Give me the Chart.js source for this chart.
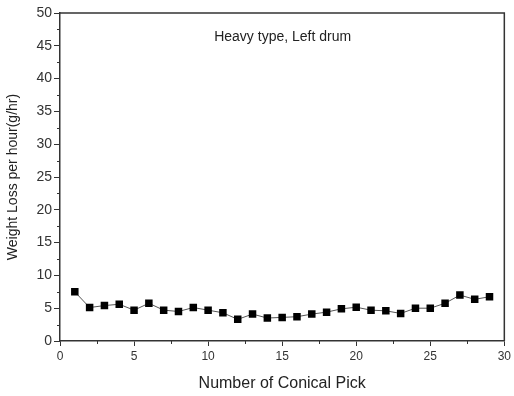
<!DOCTYPE html>
<html>
<head>
<meta charset="utf-8">
<script src="https://cdn.jsdelivr.net/npm/chart.js@4/dist/chart.umd.min.js"></script>
<style>
html,body{margin:0;padding:0;background:#fff;}
#wrap{width:514px;height:396px;position:relative;}
</style>
</head>
<body>
<div id="wrap"><canvas id="c" width="514" height="396"></canvas></div>
<script>
const pickNumbers = [1,2,3,4,5,6,7,8,9,10,11,12,13,14,15,16,17,18,19,20,21,22,23,24,25,26,27,28,29];
const weightLoss = [7.5,5.1,5.4,5.6,4.7,5.75,4.7,4.5,5.1,4.7,4.3,3.3,4.1,3.5,3.6,3.7,4.1,4.4,4.9,5.15,4.7,4.6,4.2,5.0,5.0,5.75,7.0,6.35,6.75];
const xTicks = [0,5,10,15,20,25,30];
const yTicks = [0,5,10,15,20,25,30,35,40,45,50];
const xMinorTicks = [2.5,7.5,12.5,17.5,22.5,27.5];
const yMinorTicks = [2.5,7.5,12.5,17.5,22.5,27.5,32.5,37.5,42.5,47.5];
const annotationText = "Heavy type, Left drum";
const xTitle = "Number of Conical Pick";
const yTitle = "Weight Loss per hour(g/hr)";

const FONT = "'Liberation Sans', Arial, sans-serif";
const AX = '#333';

const framePlugin = {
  id: 'frame',
  afterDraw(chart) {
    const ctx = chart.ctx;
    const a = chart.chartArea;
    const xs = chart.scales.x, ys = chart.scales.y;
    ctx.save();
    ctx.strokeStyle = AX;
    ctx.lineWidth = 1.5;
    ctx.beginPath();
    ctx.moveTo(a.left, a.top); ctx.lineTo(a.right, a.top); ctx.lineTo(a.right, a.bottom);
    ctx.stroke();
    ctx.lineWidth = 1;
    ctx.beginPath();
    xMinorTicks.forEach(v => { const px = Math.round(xs.getPixelForValue(v)) + 0.5; ctx.moveTo(px, a.bottom); ctx.lineTo(px, a.bottom + 3); });
    yMinorTicks.forEach(v => { const py = Math.round(ys.getPixelForValue(v)) + 0.5; ctx.moveTo(a.left, py); ctx.lineTo(a.left - 3, py); });
    ctx.stroke();
    ctx.fillStyle = '#222';
    ctx.font = "14px " + FONT;
    ctx.textAlign = 'center';
    ctx.textBaseline = 'middle';
    ctx.fillText(annotationText, (a.left + a.right) / 2 + 0.5, a.top + 24);
    ctx.restore();
  }
};

new Chart(document.getElementById('c'), {
  type: 'line',
  data: {
    datasets: [{
      data: pickNumbers.map((x, i) => ({x: x, y: weightLoss[i]})),
      borderColor: '#555',
      borderWidth: 1,
      pointStyle: 'rect',
      pointRadius: 5.3,
      pointBackgroundColor: '#000',
      pointBorderColor: '#000',
      pointBorderWidth: 0,
      tension: 0
    }]
  },
  options: {
    responsive: false,
    animation: false,
    events: [],
    layout: { padding: { top: 13, right: 7, left: 0, bottom: 0 } },
    plugins: { legend: { display: false }, tooltip: { enabled: false } },
    scales: {
      x: {
        type: 'linear', min: 0, max: 30,
        afterBuildTicks: s => { s.ticks = xTicks.map(v => ({value: v})); },
        afterFit: s => { s.height = 55; },
        grid: { drawOnChartArea: false, tickLength: 5, color: AX, tickWidth: 1 },
        border: { color: AX, width: 1.5 },
        ticks: { color: '#333', font: { family: FONT, size: 12 }, padding: 3 },
        title: { display: true, text: xTitle, color: '#222', font: { family: FONT, size: 16 }, padding: { top: 4, bottom: 3 } }
      },
      y: {
        min: 0, max: 50,
        afterBuildTicks: s => { s.ticks = yTicks.map(v => ({value: v})); },
        afterFit: s => { s.width = 60; },
        grid: { drawOnChartArea: false, tickLength: 6, color: AX, tickWidth: 1 },
        border: { color: AX, width: 1.5 },
        ticks: { color: '#333', font: { family: FONT, size: 14 }, padding: 2 },
        title: { display: true, text: yTitle, color: '#222', font: { family: FONT, size: 14 }, padding: { top: 5, bottom: 4 } }
      }
    }
  },
  plugins: [framePlugin]
});
</script>
</body>
</html>
